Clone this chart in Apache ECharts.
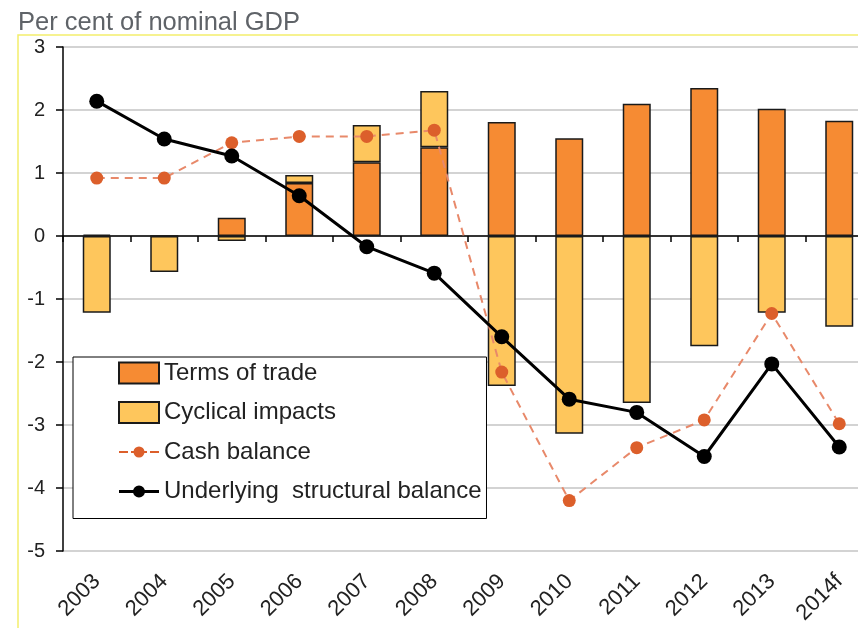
<!DOCTYPE html>
<html>
<head>
<meta charset="utf-8">
<script src="https://cdn.jsdelivr.net/npm/echarts@6/dist/echarts.min.js"></script>
<style>
  html,body{margin:0;padding:0;background:#fff;}
  #myChartBox{width:858px;height:628px;}
</style>
</head>
<body>
<div id="myChartBox"></div>
<script>
  // data
  let years = ['2003','2004','2005','2006','2007','2008','2009','2010','2011','2012','2013','2014f'];
  let termsOfTrade = [0.02, 0, 0.29, 0.84, 1.17, 1.41, 1.81, 1.55, 2.10, 2.35, 2.02, 1.83];
  let cyclicalImpacts = [-1.22, -0.57, -0.08, 0.13, 0.59, 0.89, -2.38, -3.14, -2.65, -1.75, -1.22, -1.44];
  let cashBalance = [0.92, 0.92, 1.48, 1.58, 1.58, 1.68, -2.16, -4.20, -3.36, -2.92, -1.23, -2.98];
  let structuralBalance = [2.14, 1.54, 1.27, 0.64, -0.17, -0.59, -1.60, -2.59, -2.80, -3.50, -2.03, -3.35];
  let yTicks = {min: -5, max: 3, interval: 1};

  // legend icons for the two lines (line + dot)
  let solidIcon = 'path://M0,9h15v3h-15z M25,9h15v3h-15z M14,10.5a6,6 0 1,1 12,0a6,6 0 1,1 -12,0z';
  let dashIcon = 'path://M0,9.5h9v2h-9z M12,9.5h4v2h-4z M24,9.5h4v2h-4z M31,9.5h9v2h-9z M14.5,10.5a5.5,5.5 0 1,1 11,0a5.5,5.5 0 1,1 -11,0z';

  let myChart = echarts.init(document.getElementById('myChartBox'));
  let option = {
    animation: false,
    backgroundColor: '#fff',
    textStyle: {fontFamily: 'Liberation Sans, Arial, sans-serif'},
    title: {
      text: 'Per cent of nominal GDP',
      left: 13,
      top: 5,
      textStyle: {color: '#5f6368', fontSize: 25.5, fontWeight: 'normal'}
    },
    graphic: [
      {
        type: 'rect',
        shape: {x: 18, y: 35, width: 860, height: 620},
        style: {fill: 'none', stroke: '#f3ee6c', lineWidth: 1.5},
        z: 0
      }
    ],
    legend: {
      orient: 'vertical',
      left: 73,
      top: 357,
      padding: [4, 5, 15, 45],
      itemGap: 15.5,
      itemWidth: 40,
      itemHeight: 21,
      backgroundColor: '#fff',
      borderColor: '#000',
      borderWidth: 1,
      textStyle: {fontSize: 24, color: '#222'},
      data: [
        {name: 'Terms of trade', icon: 'rect'},
        {name: 'Cyclical impacts', icon: 'rect'},
        {name: 'Cash balance', icon: dashIcon},
        {name: 'Underlying  structural balance', icon: solidIcon}
      ]
    },
    grid: {left: 63, top: 47, width: 810, bottom: 77, outerBoundsMode: 'none'},
    xAxis: [
      {
        type: 'category',
        data: years,
        axisLine: {show: false, onZero: false},
        axisTick: {show: false},
        axisLabel: {rotate: 45, fontSize: 22, color: '#222', margin: 27}
      },
      {
        type: 'category',
        data: years,
        position: 'bottom',
        axisLine: {onZero: true, lineStyle: {color: '#000', width: 1.5}},
        axisTick: {show: true, length: 6, lineStyle: {color: '#000', width: 1.5}},
        axisLabel: {show: false}
      }
    ],
    yAxis: {
      type: 'value',
      min: yTicks.min,
      max: yTicks.max,
      interval: yTicks.interval,
      axisLine: {show: true, lineStyle: {color: '#000', width: 1.5}},
      axisTick: {show: true, length: 7, lineStyle: {color: '#000', width: 1.5}},
      axisLabel: {fontSize: 20, color: '#222', margin: 18},
      splitLine: {show: true, lineStyle: {color: '#c4c4c4', width: 1.5}}
    },
    series: [
      {
        name: 'Terms of trade',
        type: 'bar',
        stack: 'tot',
        barWidth: 28,
        itemStyle: {color: '#f68b33', borderColor: '#1a1a1a', borderWidth: 1.5},
        data: termsOfTrade
      },
      {
        name: 'Cyclical impacts',
        type: 'bar',
        stack: 'tot',
        barWidth: 28,
        itemStyle: {color: '#fec65c', borderColor: '#1a1a1a', borderWidth: 1.5},
        data: cyclicalImpacts
      },
      {
        name: 'Cash balance',
        type: 'line',
        symbol: 'circle',
        symbolSize: 13,
        itemStyle: {color: '#dc5f2b'},
        lineStyle: {color: '#e8896a', width: 2, type: [8, 6]},
        z: 3,
        data: cashBalance
      },
      {
        name: 'Underlying  structural balance',
        type: 'line',
        symbol: 'circle',
        symbolSize: 15,
        itemStyle: {color: '#000'},
        lineStyle: {color: '#000', width: 3},
        z: 4,
        data: structuralBalance
      }
    ]
  };
  // 绘制图表
  myChart.setOption(option);
</script>
</body>
</html>
